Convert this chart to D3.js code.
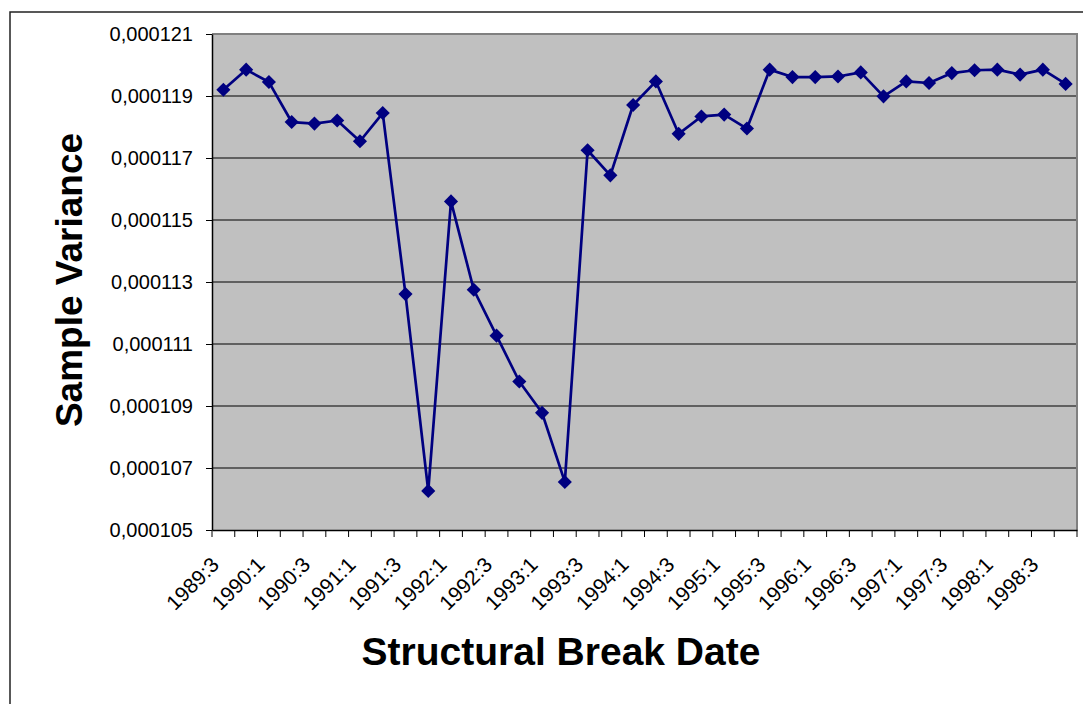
<!DOCTYPE html>
<html>
<head>
<meta charset="utf-8">
<script src="https://cdn.jsdelivr.net/npm/d3@7"></script>
<style>
  body { margin: 0; background: white; }
</style>
</head>
<body>
<div id="chart"></div>
<script>
// categories: structural break dates (year:quarter)
let quarters = ["1989:3","1989:4","1990:1","1990:2","1990:3","1990:4",
  "1991:1","1991:2","1991:3","1991:4","1992:1","1992:2","1992:3","1992:4",
  "1993:1","1993:2","1993:3","1993:4","1994:1","1994:2","1994:3","1994:4",
  "1995:1","1995:2","1995:3","1995:4","1996:1","1996:2","1996:3","1996:4",
  "1997:1","1997:2","1997:3","1997:4","1998:1","1998:2","1998:3","1998:4"];

// sample variance
let variance = [0.00011920, 0.00011985, 0.00011945, 0.00011816, 0.00011811, 0.00011821,
  0.00011754, 0.00011845, 0.00011261, 0.00010626, 0.00011560, 0.00011275, 0.00011127, 0.00010979,
  0.00010878, 0.00010655, 0.00011725, 0.00011644, 0.00011871, 0.00011947, 0.00011778, 0.00011834,
  0.00011840, 0.00011795, 0.00011985, 0.00011961, 0.00011961, 0.00011963, 0.00011976, 0.00011899,
  0.00011947, 0.00011942, 0.00011974, 0.00011983, 0.00011985, 0.00011969, 0.00011985, 0.00011939];

let yTicks = [0.000105, 0.000107, 0.000109, 0.000111, 0.000113, 0.000115, 0.000117, 0.000119, 0.000121];

// only every other quarter gets a label
let labelled = quarters.filter((q, i) => i % 2 === 0);

let width = 1083, height = 704;
let plotLeft = 212, plotRight = 1077, plotTop = 34, plotBottom = 530;

let svg = d3.select("#chart")
  .append("svg")
    .attr("width", width)
    .attr("height", height)
    .attr("font-family", "'Liberation Sans', Arial, sans-serif")
;

// outer chart frame (runs off the right and bottom edge)
svg.append("rect")
  .attr("x", 10).attr("y", 12)
  .attr("width", 1120).attr("height", 740)
  .attr("fill", "white")
  .attr("stroke", "#222")
  .attr("stroke-width", 1.5)
;

let x = d3.scaleBand().domain(quarters).range([plotLeft, plotRight]);
let y = d3.scaleLinear().domain([yTicks[0], yTicks[yTicks.length - 1]]).range([plotBottom, plotTop]);

let locale = d3.formatLocale({decimal: ",", thousands: ".", grouping: [3], currency: ["", ""]});
let fmt = locale.format(".6f");

// plot area
svg.append("rect")
  .attr("x", plotLeft).attr("y", plotTop)
  .attr("width", plotRight - plotLeft).attr("height", plotBottom - plotTop)
  .attr("fill", "#c0c0c0")
;

// gridlines
svg.selectAll(".grid").data(yTicks.slice(1, -1)).enter()
  .append("line")
    .attr("class", "grid")
    .attr("x1", plotLeft).attr("x2", plotRight)
    .attr("y1", d => y(d)).attr("y2", d => y(d))
    .attr("stroke", "black")
    .attr("stroke-width", 1)
;

// gray border on top and right
svg.append("path")
  .attr("d", `M${plotLeft},${y(yTicks[yTicks.length - 1])}H${plotRight}V${plotBottom}`)
  .attr("fill", "none")
  .attr("stroke", "#808080")
  .attr("stroke-width", 2)
;

// y axis
let yAxis = svg.append("g")
  .attr("transform", `translate(${plotLeft},0)`)
  .call(d3.axisLeft(y).tickValues(yTicks).tickSize(6).tickSizeOuter(0).tickPadding(13).tickFormat(fmt))
;
yAxis.selectAll("text").attr("font-size", 20).attr("fill", "black").attr("font-family", null);
yAxis.selectAll("line").attr("stroke", "black");
yAxis.select(".domain").attr("stroke", "black").attr("stroke-width", 1.5);

// x axis: labels at every other quarter, tick marks on the category boundaries
let xAxis = svg.append("g")
  .attr("transform", `translate(0,${plotBottom})`)
  .call(d3.axisBottom(x).tickSize(0).tickSizeOuter(0).tickFormat(d => labelled.includes(d) ? d : ""))
;
xAxis.select(".domain").attr("stroke", "black").attr("stroke-width", 1.5);
xAxis.selectAll("text")
  .attr("font-size", 21)
  .attr("font-family", null)
  .attr("fill", "black")
  .attr("text-anchor", "end")
  .attr("x", 0).attr("y", 0).attr("dy", 0)
  .attr("transform", "translate(-3,36) rotate(-45)")
;
xAxis.selectAll(".boundary").data(quarters.concat([null])).enter()
  .append("line")
    .attr("class", "boundary")
    .attr("x1", d => d === null ? plotRight : x(d))
    .attr("x2", d => d === null ? plotRight : x(d))
    .attr("y1", 0).attr("y2", 7)
    .attr("stroke", "black")
;

// series
let pts = quarters.map((q, i) => [x(q) + x.bandwidth() / 2, y(variance[i])]);

svg.append("path")
  .attr("d", d3.line()(pts))
  .attr("fill", "none")
  .attr("stroke", "#000080")
  .attr("stroke-width", 2.7)
  .attr("stroke-linejoin", "round")
;

svg.selectAll(".marker").data(pts).enter()
  .append("path")
    .attr("class", "marker")
    .attr("d", d3.symbol().type(d3.symbolSquare).size(100))
    .attr("transform", d => `translate(${d[0]},${d[1]}) rotate(45)`)
    .attr("fill", "#000080")
;

// axis titles
svg.append("text")
  .attr("x", 561).attr("y", 665)
  .attr("text-anchor", "middle")
  .attr("font-size", 39)
  .attr("font-weight", "bold")
  .text("Structural Break Date")
;

svg.append("text")
  .attr("transform", "translate(82,280) rotate(-90)")
  .attr("text-anchor", "middle")
  .attr("font-size", 37)
  .attr("font-weight", "bold")
  .text("Sample Variance")
;
</script>
</body>
</html>
